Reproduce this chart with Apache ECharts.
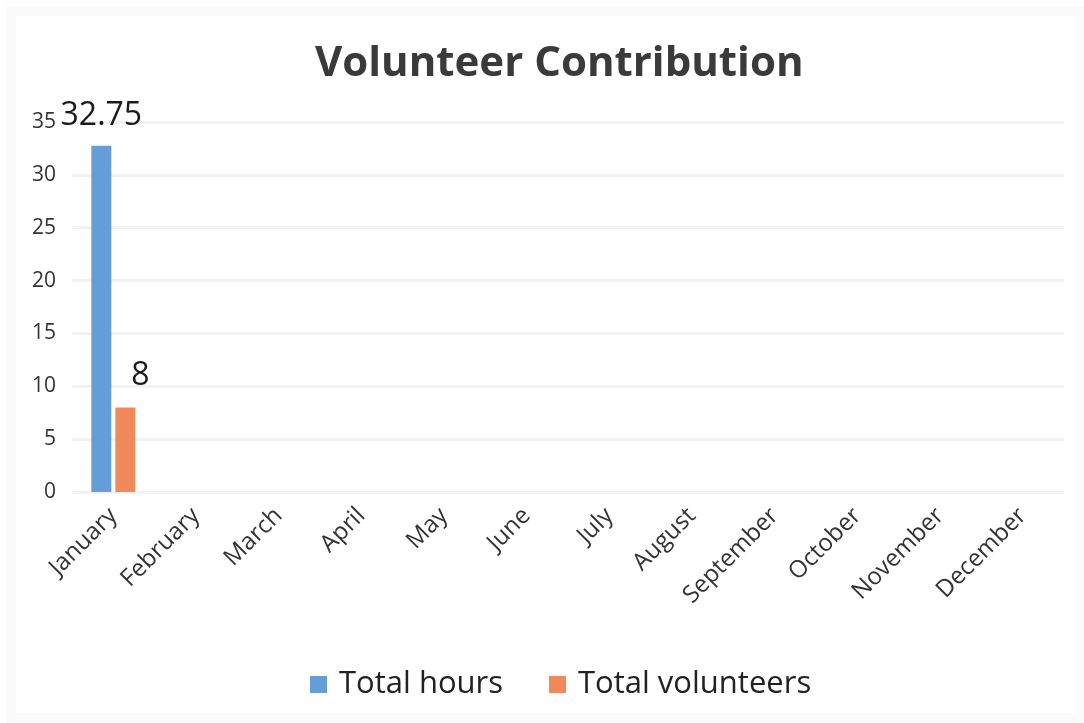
<!DOCTYPE html>
<html>
<head>
<meta charset="utf-8">
<script src="https://cdn.jsdelivr.net/npm/echarts@6/dist/echarts.min.js"></script>
<style>
  html, body { margin: 0; padding: 0; background: #ffffff; }
  #chart { width: 1084px; height: 723px; }
</style>
</head>
<body>
<div id="chart"></div>
<script>
// Monthly volunteer figures
const months = ['January', 'February', 'March', 'April', 'May', 'June',
                'July', 'August', 'September', 'October', 'November', 'December'];
const totalHours = [32.75, null, null, null, null, null, null, null, null, null, null, null];
const totalVolunteers = [8, null, null, null, null, null, null, null, null, null, null, null];
const yTicks = [0, 5, 10, 15, 20, 25, 30, 35];

const FONT = '"Open Sans", "Noto Sans", sans-serif';

const chart = echarts.init(document.getElementById('chart'), null, { renderer: 'canvas' });

chart.setOption({
  backgroundColor: '#ffffff',
  animation: false,
  // faint frame around the chart area
  graphic: [{
    type: 'rect',
    silent: true,
    shape: { x: 11, y: 11, width: 1070, height: 707 },
    style: { fill: 'none', stroke: '#fbfbfb', lineWidth: 10 }
  }],
  title: {
    text: 'Volunteer Contribution',
    left: 310,
    top: 38,
    textStyle: { fontFamily: FONT, fontSize: 42, fontWeight: 'bold', color: '#3a3a3a' }
  },
  legend: {
    bottom: 18,
    left: 305,
    itemWidth: 17,
    itemHeight: 17,
    itemGap: 46,
    icon: 'rect',
    textStyle: { fontFamily: FONT, fontSize: 31, color: '#222222', padding: [0, 0, 0, 7] },
    data: ['Total hours', 'Total volunteers']
  },
  grid: { left: 72, right: 20, top: 122, bottom: 231, containLabel: false },
  xAxis: {
    type: 'category',
    data: months,
    axisLine: { show: false },
    axisTick: { show: false },
    axisLabel: {
      rotate: 45,
      margin: 20,
      interval: 0,
      fontFamily: FONT,
      fontSize: 24,
      color: '#333333'
    }
  },
  yAxis: {
    type: 'value',
    min: yTicks[0],
    max: yTicks[yTicks.length - 1],
    interval: 5,
    axisLine: { show: false },
    axisTick: { show: false },
    axisLabel: { fontFamily: FONT, fontSize: 21, color: '#333333', margin: 16 },
    splitLine: { lineStyle: { color: '#f2f2f2', width: 3 } }
  },
  series: [
    {
      name: 'Total hours',
      type: 'bar',
      data: totalHours,
      barWidth: 20,
      barGap: '20%',
      itemStyle: { color: '#659ed6' },
      label: {
        show: true,
        position: 'top',
        distance: 14,
        fontFamily: FONT,
        fontSize: 32,
        color: '#1a1a1a'
      }
    },
    {
      name: 'Total volunteers',
      type: 'bar',
      data: totalVolunteers,
      barWidth: 20,
      itemStyle: { color: '#f08a5a' },
      label: {
        show: true,
        position: 'top',
        distance: 16,
        offset: [15, 0],
        fontFamily: FONT,
        fontSize: 32,
        color: '#1a1a1a'
      }
    }
  ]
});
</script>
</body>
</html>
